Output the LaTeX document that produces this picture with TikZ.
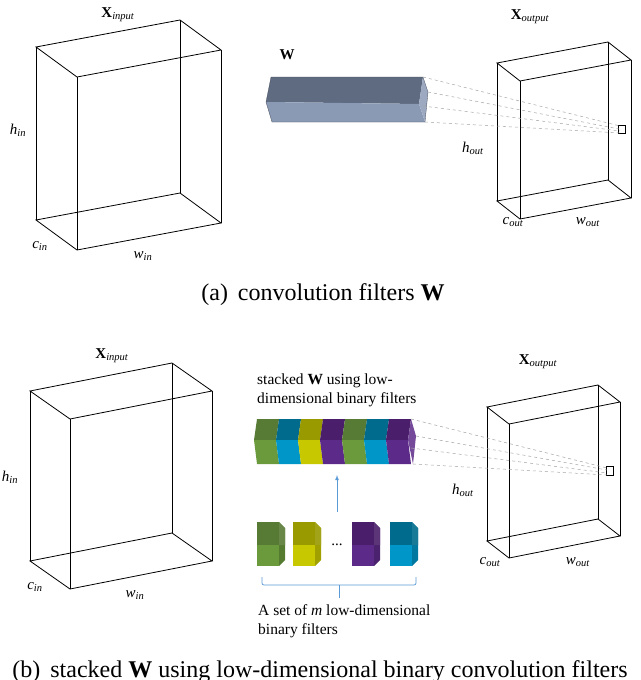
\documentclass[tikz,border=0pt]{standalone}
\usepackage{fontspec}
\setmainfont{Liberation Serif}
\usetikzlibrary{calc}
\definecolor{gtop}{HTML}{577A35}\definecolor{gbot}{HTML}{6A9A3C}
\definecolor{btop}{HTML}{006B8C}\definecolor{bbot}{HTML}{0096C8}
\definecolor{ytop}{HTML}{999900}\definecolor{ybot}{HTML}{C8C800}
\definecolor{ptop}{HTML}{4A1E6A}\definecolor{pbot}{HTML}{5C2A88}
\definecolor{wtop}{HTML}{5F6B80}\definecolor{wbot}{HTML}{8A9AB5}
\definecolor{arrowblue}{HTML}{5B9BD5}
\newcommand{\vsym}[2]{\textit{#1}\textsubscript{\textit{#2}}}
\newcommand{\xsym}[1]{\textbf{X}\textsubscript{\textit{#1}}}
\tikzset{
	wire/.style={line width=0.8pt, black},
	ray/.style={dashed, gray!70, line width=0.5pt},
	lbl/.style={font=\fontsize{15}{16}\selectfont, inner sep=0pt},
	txt/.style={font=\fontsize{15.5}{19}\selectfont, align=left, inner sep=0pt, anchor=north west},
	caption/.style={font=\fontsize{24}{26}\selectfont, inner sep=0pt}
}
% wire box: corner A, top edge to B, depth edge to D, height h
\newcommand{\wirebox}[4]{
	\draw[wire] (#1) -- (#2) -- ($(#2)+(#3)-(#1)$) -- (#3) -- cycle;
	\draw[wire] ($(#1)+(0,#4)$) -- ($(#2)+(0,#4)$) -- ($(#2)+(#3)-(#1)+(0,#4)$) -- ($(#3)+(0,#4)$) -- cycle;
	\foreach \p in {#1,#2,#3} \draw[wire] (\p) -- ++(0,#4);
	\draw[wire] ($(#2)+(#3)-(#1)$) -- ++(0,#4);
}
% one chevron block of the stacked filter
\newcommand{\stackblock}[3]{
	\fill[#2] (#1,419) -- (#1+22,419) -- (#1+19,440) -- (#1-3,440) -- cycle;
	\fill[#3] (#1-3,440) -- (#1+19,440) -- (#1+22,464) -- (#1,464) -- cycle;
}
% one small binary filter cube
\newcommand{\smallcube}[3]{
	\fill[#2] (#1,522) -- (#1+22,522) -- (#1+22,545) -- (#1,545) -- cycle;
	\fill[#3] (#1,545) -- (#1+22,545) -- (#1+22,566) -- (#1,566) -- cycle;
	\fill[#3!80!black] (#1+22,522) -- (#1+28,528) -- (#1+28,560) -- (#1+22,566) -- cycle;
	\fill[#2!90!white] (#1+22,522) -- (#1+28,528) -- (#1+28,545) -- (#1+22,545) -- cycle;
}
\begin{document}
\begin{tikzpicture}[x=1pt,y=-1pt]
	\useasboundingbox (0,0) rectangle (640,680);
	%% (a)
	\coordinate (ia) at (36,47); \coordinate (ib) at (180,20); \coordinate (id) at (77,77);
	\wirebox{ia}{ib}{id}{173}
	\node[lbl] (xin1) at (118,15) {\xsym{input}};
	\node[lbl] (hin1) at (18,130) {\vsym{h}{in}};
	\node[lbl] (cin1) at (40,246) {\vsym{c}{in}};
	\node[lbl] (win1) at (143,256) {\vsym{w}{in}};
	% filter bar W
	\fill[wtop] (271,77) -- (423,77) -- (419,104) -- (266,102) -- cycle;
	\fill[wbot] (266,102) -- (419,104) -- (425,122) -- (272,122) -- cycle;
	\fill[wbot!85!white] (423,77) -- (428,92) -- (425,122) -- (419,104) -- cycle;
	\draw[wtop!70!black, line width=0.3pt] (271,77) -- (423,77) -- (428,92) -- (425,122) -- (272,122) -- (266,102) -- cycle;
	\node[lbl] (w1) at (287,55) {\textbf{W}};
	\coordinate (oa) at (497,63); \coordinate (ob) at (608,42); \coordinate (od) at (520,81);
	\wirebox{oa}{ob}{od}{138}
	\draw[line width=0.5pt] (618,125) rectangle (625,133);
	\draw[ray] (423,77) -- (620,126);
	\draw[ray] (428,92) -- (619,129);
	\draw[ray] (423,106) -- (620,131);
	\draw[ray] (425,122) -- (620,133);
	\node[lbl] (xout1) at (530,17) {\xsym{output}};
	\node[lbl] (hout1) at (473,148) {\vsym{h}{out}};
	\node[lbl] (cout1) at (513,222) {\vsym{c}{out}};
	\node[lbl] (wout1) at (588,222) {\vsym{w}{out}};
	\node[caption] (capa) at (323,295) {(a)\, convolution filters \textbf{W}};
	%% (b)
	\coordinate (ja) at (30,391); \coordinate (jb) at (172,363); \coordinate (jd) at (70,419);
	\wirebox{ja}{jb}{jd}{170}
	\node[lbl] (xin2) at (112,356) {\xsym{input}};
	\node[lbl] (hin2) at (10,477) {\vsym{h}{in}};
	\node[lbl] (cin2) at (35,587) {\vsym{c}{in}};
	\node[lbl] (win2) at (135,595) {\vsym{w}{in}};
	\node[txt] (stk) at (257,374) {stacked \textbf{W} using low-\\dimensional binary filters};
	\foreach \x/\ct/\cb [count=\i] in {257/gtop/gbot,279/btop/bbot,301/ytop/ybot,323/ptop/pbot,345/gtop/gbot,367/btop/bbot,389/ptop/pbot}
		\stackblock{\x}{\ct}{\cb};
	\fill[pbot!85!white] (411,419) -- (416,436) -- (413,464) -- (408,440) -- cycle;
	\coordinate (oc) at (487,407); \coordinate (oe) at (598,385); \coordinate (of) at (509,424);
	\wirebox{oc}{oe}{of}{134}
	\draw[line width=0.5pt] (606,466) rectangle (613,475);
	\draw[ray] (411,419) -- (607,468);
	\draw[ray] (416,436) -- (607,470);
	\draw[ray] (411,448) -- (607,473);
	\draw[ray] (413,464) -- (607,475);
	\node[lbl] (xout2) at (538,362) {\xsym{output}};
	\node[lbl] (hout2) at (463,490) {\vsym{h}{out}};
	\node[lbl] (cout2) at (490,562) {\vsym{c}{out}};
	\node[lbl] (wout2) at (578,562) {\vsym{w}{out}};
	\coordinate (arrtail) at (337,512); \coordinate (arrhead) at (337,475);
	\draw[arrowblue, line width=0.8pt, -latex] (arrtail) -- (arrhead);
	\smallcube{257}{gtop}{gbot}
	\smallcube{293}{ytop}{ybot}
	\node[lbl] (dots) at (337,545) {...};
	\smallcube{352}{ptop}{pbot}
	\smallcube{390}{btop}{bbot}
	\draw[arrowblue, line width=0.7pt, rounded corners=2pt] (262,577) -- (262,585) -- (416,585) -- (416,577);
	\draw[arrowblue, line width=0.7pt] (339,585) -- (339,598);
	\node[txt] (set) at (258,604) {A set of \textit{m} low-dimensional\\binary filters};
	\node[caption] (capb) at (320,672) {(b)\, stacked \textbf{W} using low-dimensional binary convolution filters};
\end{tikzpicture}
\end{document}
